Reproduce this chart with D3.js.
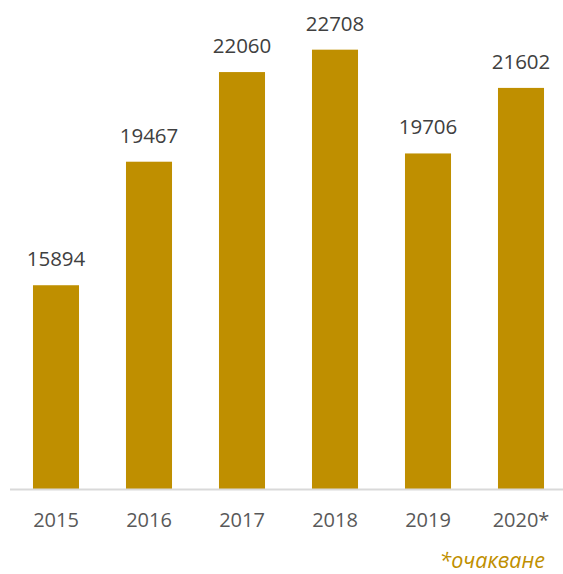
<!DOCTYPE html>
<html>
<head>
<meta charset="utf-8">
<script src="https://d3js.org/d3.v7.min.js"></script>
<style>
    body { margin: 0; background: #ffffff; }
    svg { display: block; }
</style>
</head>
<body>
<svg id="drawing_region"></svg>
<script>
const years = ['2015', '2016', '2017', '2018', '2019', '2020*'];
const values = [15894, 19467, 22060, 22708, 19706, 21602];
const yDomain = [10000, 24000];
const note = '*очакване';

var config = {
    parent: '#drawing_region',
    width: 563,
    height: 574,
    margin: {top:5, right:-4.5, bottom:85, left:9.5}
};

class BarChart {

    constructor( config, years, values ) {
        this.config = config;
        this.years = years;
        this.values = values;
        this.init();
    }

    init() {
        let self = this;

        self.svg = d3.select( self.config.parent )
            .attr('width', self.config.width)
            .attr('height', self.config.height);

        self.inner_width = self.config.width - self.config.margin.left - self.config.margin.right;
        self.inner_height = self.config.height - self.config.margin.top - self.config.margin.bottom;

        self.chart = self.svg.append('g')
            .attr('transform', `translate(${self.config.margin.left}, ${self.config.margin.top})`);

        self.xscale = d3.scaleBand()
            .domain( self.years )
            .range( [0, self.inner_width] )
            .paddingInner(0.505)
            .paddingOuter(0.2525);

        self.yscale = d3.scaleLinear()
            .domain( yDomain )
            .range( [self.inner_height, 0] );
    }

    render() {
        let self = this;
        const data = self.years.map( (y, i) => ({year: y, value: self.values[i]}) );

        self.chart.selectAll('rect')
            .data(data)
            .join('rect')
            .attr('x', d => self.xscale(d.year))
            .attr('y', d => self.yscale(d.value))
            .attr('width', self.xscale.bandwidth())
            .attr('height', d => self.inner_height - self.yscale(d.value))
            .attr('fill', '#bf8f00');

        // value labels
        self.chart.selectAll('.value')
            .data(data)
            .join('text')
            .attr('class', 'value')
            .attr('x', d => self.xscale(d.year) + self.xscale.bandwidth()/2)
            .attr('y', d => self.yscale(d.value) - 19)
            .attr('text-anchor', 'middle')
            .attr('fill', '#404040')
            .style('font-family', '"Open Sans", sans-serif')
            .style('font-size', '20.5px')
            .text(d => d.value);

        // x axis
        const xaxis = d3.axisBottom( self.xscale ).tickSize(0).tickPadding(24);
        const g = self.chart.append('g')
            .attr('transform', `translate(0, ${self.inner_height})`)
            .call( xaxis );
        g.select('.domain').attr('stroke', '#d9d9d9').attr('stroke-width', 2);
        g.selectAll('text')
            .attr('fill', '#595959')
            .style('font-family', '"Open Sans", sans-serif')
            .style('font-size', '20px');

        // footnote
        self.svg.append('text')
            .attr('x', 545)
            .attr('y', 568)
            .attr('text-anchor', 'end')
            .attr('fill', '#bf8f00')
            .style('font-family', '"Open Sans", sans-serif')
            .style('font-style', 'italic')
            .style('font-size', '21.5px')
            .text(note);
    }
}

const bar_chart = new BarChart( config, years, values );
bar_chart.render();
</script>
</body>
</html>
